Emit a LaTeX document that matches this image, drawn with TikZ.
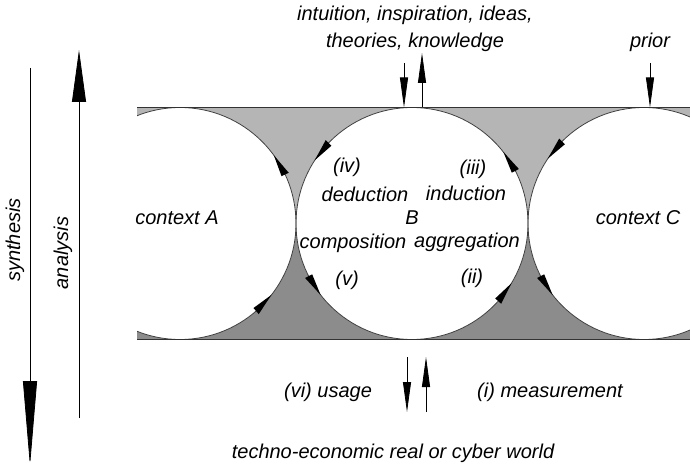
\documentclass[tikz,border=0pt]{standalone}
\usepackage{fontspec}
\setmainfont{Liberation Sans}
\usetikzlibrary{arrows.meta,calc}
\definecolor{bandlight}{gray}{0.71}
\definecolor{banddark}{gray}{0.55}
\definecolor{edgegray}{gray}{0.2}
\begin{document}
\begin{tikzpicture}[x=1pt,y=-1pt,
  font=\fontsize{20}{27}\selectfont\itshape,
  lbl/.style={inner sep=0pt, align=center},
  flow/.style={-{Triangle[length=30pt,width=8pt]}, line width=0.8pt},
  circ/.style={draw=black!75, line width=0.8pt},
  carr/.style={fill=black},
  edge/.style={draw=edgegray, line width=1.5pt}
]
\useasboundingbox (0,0) rectangle (690,468);
\coordinate (A) at (180,223.5);
\coordinate (B) at (412,223.5);
\coordinate (C) at (644,223.5);
\coordinate (tl) at (137,107.5);
\coordinate (tr) at (690,107.5);
\coordinate (bl) at (137,339.5);
\coordinate (br) at (690,339.5);
\coordinate (ml) at (137,223.5);
\coordinate (mr) at (690,223.5);
% band
\fill[bandlight] (tl) rectangle (mr);
\fill[banddark] (ml) rectangle (br);
\begin{scope}
  \clip (tl) rectangle (br);
  \foreach \c in {A,B,C} \fill[white] (\c) circle (116);
  \foreach \c in {A,B,C} \draw[circ] (\c) circle (116);
\end{scope}
% cycle arrowheads on the circles (centred at angle \t, tip at \t-5)
\foreach \c/\t in {A/329, A/43, B/327, B/218, B/147, B/36, C/219, C/147}
  \fill[carr] ($(\c)+(\t-5:116)$) -- ($(\c)+(\t+6:120)$) -- ($(\c)+(\t+6:112)$) -- cycle;
\draw[edge] (tl) -- (tr);
\draw[edge] (bl) -- (br);
% circle labels
\node[lbl] (ctxA) at (177,218) {context A};
\node[lbl] (ctxC) at (638,218) {context C};
\node[lbl] (ctxB) at (412,218) {B};
\node[lbl] (iv) at (347,167) {(iv)};
\node[lbl] (ded) at (365,194) {deduction};
\node[lbl] (iii) at (473,169) {(iii)};
\node[lbl] (ind) at (466,193) {induction};
\node[lbl] (comp) at (353,243) {composition};
\node[lbl] (aggr) at (467,242) {aggregation};
\node[lbl] (v) at (347,280) {(v)};
\node[lbl] (ii) at (472,278) {(ii)};
% top
\node[lbl] (ideas) at (415,29) {intuition, inspiration, ideas,\\theories, knowledge};
\node[lbl] (prior) at (650,42) {prior};
\coordinate (d1s) at (404,63);  \coordinate (d1e) at (404,107.5);
\coordinate (u1s) at (422,107.5); \coordinate (u1e) at (422,53);
\coordinate (p1s) at (650,63);  \coordinate (p1e) at (650,107.5);
\draw[flow] (d1s) -- (d1e);
\draw[flow] (u1s) -- (u1e);
\draw[flow] (p1s) -- (p1e);
% bottom
\coordinate (d2s) at (407,357); \coordinate (d2e) at (407,412);
\coordinate (u2s) at (426,412); \coordinate (u2e) at (426,357);
\draw[flow] (d2s) -- (d2e);
\draw[flow] (u2s) -- (u2e);
\node[lbl] (usage) at (328,392) {(vi) usage};
\node[lbl] (meas) at (550,392) {(i) measurement};
\node[lbl] (world) at (393,453) {techno-economic real or cyber world};
% left
\coordinate (s1) at (30,68); \coordinate (s2) at (30,466);
\coordinate (a1) at (79,418); \coordinate (a2) at (79,50);
\draw[-{Triangle[length=85pt,width=14pt]}, line width=0.8pt] (s1) -- (s2);
\draw[-{Triangle[length=52pt,width=14pt]}, line width=0.8pt] (a1) -- (a2);
\node[lbl, rotate=90] (syn) at (15,240) {synthesis};
\node[lbl, rotate=90] (ana) at (63,253) {analysis};
\end{tikzpicture}
\end{document}
